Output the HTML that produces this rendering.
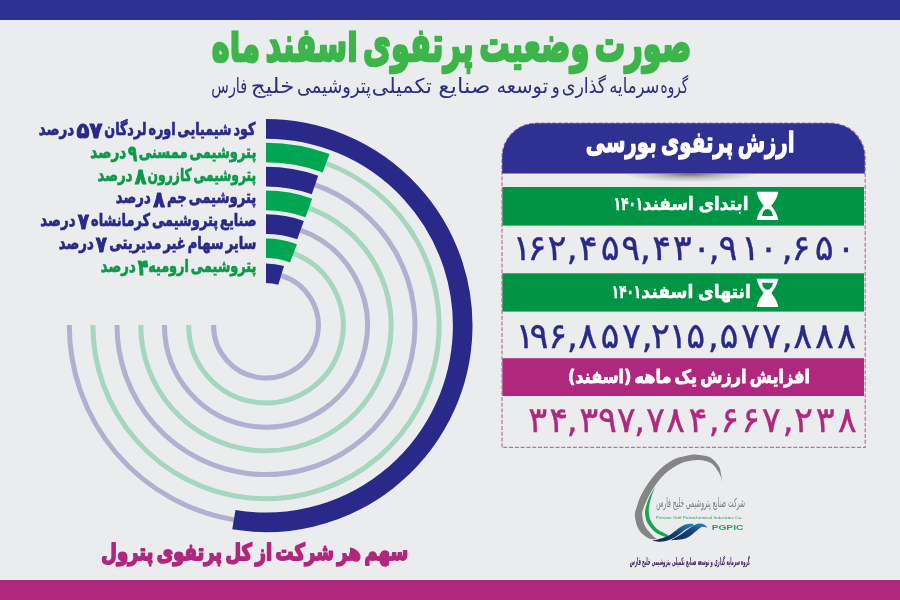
<!DOCTYPE html>
<html lang="fa"><head><meta charset="utf-8"><title>صورت وضعیت پرتفوی</title>
<style>
html,body{margin:0;padding:0}
body{width:900px;height:600px;position:relative;overflow:hidden;background:#ebecee;font-family:"DejaVu Sans","Liberation Sans",sans-serif}
.abs{position:absolute;left:0;top:0}
.txt text{direction:rtl;unicode-bidi:normal;white-space:pre}
</style></head><body>
<div class="abs" style="width:900px;height:20px;background:#2e3192"></div>
<div class="abs" style="top:580px;width:900px;height:20px;background:#b0277e"></div>
<svg class="abs" width="900" height="600" viewBox="0 0 900 600">
<path d="M235.57 519.93A196.7 196.7 0 0 1 69.30 325.00" stroke="#29298a" stroke-opacity="0.3" stroke-width="5" fill="none"/>
<path d="M324.64 162.73A173.1 173.1 0 1 1 92.90 325.00" stroke="#00a651" stroke-opacity="0.3" stroke-width="5" fill="none"/>
<path d="M313.77 184.47A149.0 149.0 0 1 1 117.00 325.00" stroke="#29298a" stroke-opacity="0.3" stroke-width="5" fill="none"/>
<path d="M307.79 207.58A125.2 125.2 0 1 1 140.80 325.00" stroke="#00a651" stroke-opacity="0.3" stroke-width="5" fill="none"/>
<path d="M299.71 229.86A101.5 101.5 0 1 1 164.50 325.00" stroke="#29298a" stroke-opacity="0.3" stroke-width="5" fill="none"/>
<path d="M292.82 253.10A77.3 77.3 0 1 1 188.70 325.00" stroke="#00a651" stroke-opacity="0.3" stroke-width="5" fill="none"/>
<path d="M280.71 275.31A52.4 52.4 0 1 1 213.60 325.00" stroke="#29298a" stroke-opacity="0.3" stroke-width="5" fill="none"/>
<path d="M266.00 128.90A196.7 196.7 0 1 1 233.87 519.66" stroke="#29298a" stroke-width="19.6" fill="none"/>
<path d="M266.00 152.50A173.1 173.1 0 0 1 326.05 163.25" stroke="#00a651" stroke-width="19.6" fill="none"/>
<path d="M266.00 176.60A149.0 149.0 0 0 1 315.00 184.89" stroke="#29298a" stroke-width="19.6" fill="none"/>
<path d="M266.00 200.40A125.2 125.2 0 0 1 308.82 207.95" stroke="#00a651" stroke-width="19.6" fill="none"/>
<path d="M266.00 224.10A101.5 101.5 0 0 1 300.55 230.16" stroke="#29298a" stroke-width="19.6" fill="none"/>
<path d="M266.00 248.30A77.3 77.3 0 0 1 293.45 253.34" stroke="#00a651" stroke-width="19.6" fill="none"/>
<path d="M266.00 273.20A52.4 52.4 0 0 1 281.15 275.44" stroke="#29298a" stroke-width="19.6" fill="none"/>
</svg>
<svg class="abs" width="900" height="600" viewBox="0 0 900 600">
<defs>
<radialGradient id="shd" cx="0.5" cy="0" r="1" gradientTransform="translate(0.5 0) scale(0.5 1) translate(-0.5 0)">
<stop offset="0" stop-color="#3a3a3a" stop-opacity="0.75"/><stop offset="0.45" stop-color="#555" stop-opacity="0.35"/><stop offset="1" stop-color="#777" stop-opacity="0"/>
</radialGradient>
<path id="hg" d="M0 0H21.6C20.6 6 18 9.6 14.6 14.1C18 18.6 20.6 22.3 21.6 28.3H0C1 22.3 3.6 18.6 7 14.1C3.6 9.6 1 6 0 0ZM5.4 24.3H16.2C16 20.2 13.6 17.3 10.8 17.3C8 17.3 5.6 20.2 5.4 24.3Z" fill-rule="evenodd"/>
</defs>
<rect x="622" y="173.5" width="136" height="9" fill="url(#shd)"/>
<rect x="502.3" y="187" width="361.7" height="38.6" fill="#009444"/>
<rect x="502.3" y="273.3" width="361.7" height="38.3" fill="#009444"/>
<rect x="502.3" y="358.2" width="361.7" height="37.8" fill="#b0277e"/>
<path d="M502 447.3V157.4A34.2 34.2 0 0 1 536.2 123.2H831A34.2 34.2 0 0 1 865.2 157.4V447.3Z" fill="none" stroke="#b275a5" stroke-width="1.2" stroke-dasharray="4 1.8"/>
<path d="M502.2 173.6V157.4A34.2 34.2 0 0 1 536.4 123.2H830.6A34.2 34.2 0 0 1 864.8 157.4V173.6Z" fill="#2e3192"/>
<use href="#hg" x="756.7" y="191.7" fill="#fff"/>
<use href="#hg" transform="translate(756.7 307) scale(1 -1)" fill="#fff"/>
</svg>

<svg class="abs" width="900" height="600" viewBox="0 0 900 600">
<defs><linearGradient id="wv" x1="0" y1="1" x2="1" y2="0"><stop offset="0" stop-color="#13254f"/><stop offset="0.55" stop-color="#17437c"/><stop offset="1" stop-color="#2a86c0"/></linearGradient></defs>
<path d="M722.5 482.7C722.2 481.2 721.6 476.8 721.0 474.0C720.4 471.2 720.5 468.8 718.7 466.0C716.9 463.2 713.3 459.2 710.0 457.3C706.7 455.4 702.2 455.3 699.0 454.9C695.8 454.5 694.9 454.1 690.5 455.0C686.1 455.9 678.4 456.9 672.6 460.0C666.8 463.1 660.9 468.0 655.9 473.4C650.9 478.8 645.8 486.6 642.5 492.4C639.2 498.2 637.6 503.9 636.4 508.0C635.1 512.1 634.6 513.3 635.0 517.0C635.4 520.7 636.7 526.4 639.0 530.0C641.3 533.6 646.0 537.0 649.0 538.5C652.0 540.0 655.7 538.8 657.0 538.8C656.3 538.3 655.0 538.1 653.0 536.0C651.0 533.9 646.8 529.5 645.0 526.0C643.2 522.5 642.4 518.0 642.2 515.0C642.0 512.0 642.1 511.9 643.6 508.0C645.1 504.1 647.9 497.0 651.4 491.3C654.9 485.6 659.9 478.6 664.8 474.0C669.6 469.4 675.5 465.7 680.5 463.4C685.5 461.1 690.9 460.6 695.0 460.2C699.1 459.8 702.5 460.4 705.3 461.0C708.1 461.6 709.8 462.2 711.7 463.6C713.6 465.0 715.2 467.2 716.7 469.3C718.2 471.4 719.5 473.8 720.5 476.0C721.5 478.2 722.2 481.6 722.5 482.7Z" fill="#858587"/>
<path d="M655.3 486.8C654.2 488.7 650.7 494.1 649.0 498.0C647.3 501.9 645.8 506.8 645.2 510.0C644.6 513.2 645.2 514.8 645.6 517.0C646.0 519.2 645.9 520.5 647.5 523.0C649.1 525.5 652.2 529.8 655.0 532.0C657.8 534.2 661.7 535.6 664.0 536.5C666.3 537.4 668.2 537.2 669.0 537.3C668.7 536.8 669.0 535.9 667.0 534.5C665.0 533.1 659.8 531.4 657.0 529.0C654.2 526.6 651.9 523.2 650.5 520.0C649.1 516.8 648.7 513.7 648.8 510.0C648.9 506.3 649.9 501.9 651.0 498.0C652.1 494.1 654.6 488.7 655.3 486.8Z" fill="#17a650"/>
<path d="M652.5 540.7C654.2 540.9 659.2 542.2 663.0 541.6C666.8 541.0 671.2 539.2 675.0 537.2C678.8 535.2 682.8 531.3 686.0 529.3C689.2 527.3 692.7 525.9 694.0 525.2C693.7 525.0 693.3 523.9 692.0 523.8C690.7 523.6 688.3 523.5 686.0 524.3C683.7 525.1 681.0 526.8 678.0 528.8C675.0 530.8 672.2 534.0 668.0 536.0C663.8 538.0 655.1 539.9 652.5 540.7Z" fill="url(#wv)"/>
<path d="M671.0 540.2C673.5 539.9 681.8 539.7 686.0 538.2C690.2 536.7 693.3 533.1 696.0 531.2C698.7 529.3 700.1 527.4 702.0 526.8C703.9 526.2 706.6 527.5 707.5 527.6C706.9 527.1 705.6 525.1 704.0 524.5C702.4 523.9 700.3 523.2 698.0 523.8C695.7 524.3 693.0 525.9 690.0 527.8C687.0 529.7 683.2 532.9 680.0 535.0C676.8 537.1 672.5 539.3 671.0 540.2Z" fill="url(#wv)"/>
<text x="655.8" y="519.4" font-family="'Liberation Sans',sans-serif" font-size="4.1" fill="#21a356" textLength="86.5" lengthAdjust="spacingAndGlyphs">Persian Gulf Petrochemical Industries Co.</text>
<text x="711.7" y="529.6" font-family="'Liberation Sans',sans-serif" font-weight="bold" font-size="7.4" fill="#21a356" textLength="31.6" lengthAdjust="spacingAndGlyphs">PGPIC</text>
</svg>

<svg class="abs txt" width="900" height="600" viewBox="0 0 900 600" direction="rtl" font-family="DejaVu Sans, Liberation Sans, sans-serif">
<defs><clipPath id="c_title"><rect x="0" y="30.5" width="900" height="100"/></clipPath></defs>
<g clip-path="url(#c_title)"><text id="title" x="0" y="0" transform="translate(691.29 61.1) scale(1 1.22)" font-size="40" font-weight="bold" fill="#3cb54a" textLength="479.51" lengthAdjust="spacingAndGlyphs" stroke="#3cb54a" stroke-width="2.2" stroke-linejoin="round" style="word-spacing:-0.17em">صورت وضعیت پرتفوی اسفند ماه</text></g>
<text id="sub0" x="688.12" y="93" font-size="20.5" font-weight="normal" fill="#2b2e83" textLength="27.53" lengthAdjust="spacingAndGlyphs">گروه</text>
<text id="sub1" x="659.39" y="93" font-size="20.5" font-weight="normal" fill="#2b2e83" textLength="50.15" lengthAdjust="spacingAndGlyphs">سرمایه</text>
<text id="sub2" x="606.08" y="93" font-size="20.5" font-weight="normal" fill="#2b2e83" textLength="44.32" lengthAdjust="spacingAndGlyphs">گذاری</text>
<text id="sub3" x="559.60" y="93" font-size="20.5" font-weight="normal" fill="#2b2e83" textLength="7.94" lengthAdjust="spacingAndGlyphs">و</text>
<text id="sub4" x="548.11" y="93" font-size="20.5" font-weight="normal" fill="#2b2e83" textLength="51.68" lengthAdjust="spacingAndGlyphs">توسعه</text>
<text id="sub5" x="490.40" y="93" font-size="20.5" font-weight="normal" fill="#2b2e83" textLength="52.03" lengthAdjust="spacingAndGlyphs">صنایع</text>
<text id="sub6" x="431.73" y="93" font-size="20.5" font-weight="normal" fill="#2b2e83" textLength="59.98" lengthAdjust="spacingAndGlyphs">تکمیلی</text>
<text id="sub7" x="371.04" y="93" font-size="20.5" font-weight="normal" fill="#2b2e83" textLength="74.11" lengthAdjust="spacingAndGlyphs">پتروشیمی</text>
<text id="sub8" x="294.43" y="93" font-size="20.5" font-weight="normal" fill="#2b2e83" textLength="43.55" lengthAdjust="spacingAndGlyphs">خلیج</text>
<text id="sub9" x="247.10" y="93" font-size="20.5" font-weight="normal" fill="#2b2e83" textLength="35.76" lengthAdjust="spacingAndGlyphs">فارس</text>
<text id="cap" x="408.06" y="559.5" font-size="23" font-weight="bold" fill="#b0277e" textLength="306.72" lengthAdjust="spacingAndGlyphs" stroke="#b0277e" stroke-width="1.8" stroke-linejoin="round" style="word-spacing:-0.15em">سهم هر شرکت از کل پرتفوی پترول</text>
<text id="ph" x="0" y="0" transform="translate(794.53 151.5) scale(1 1.14)" font-size="24.5" font-weight="bold" fill="#fff" textLength="208.67" lengthAdjust="spacingAndGlyphs" stroke="#fff" stroke-width="1.1" stroke-linejoin="round" style="word-spacing:-0.12em">ارزش پرتفوی بورسی</text>
<text id="g1" x="748.46" y="210" font-size="18" font-weight="bold" fill="#fff" textLength="105.72" lengthAdjust="spacingAndGlyphs" stroke="#fff" stroke-width="0.5" stroke-linejoin="round" style="word-spacing:-0.08em">ابتدای اسفند</text>
<text id="g1y" x="643.12" y="210" font-size="18" font-weight="bold" fill="#fff" textLength="29.25" lengthAdjust="spacingAndGlyphs" stroke="#fff" stroke-width="0.5" stroke-linejoin="round">۱۴۰۱</text>
<text id="g2" x="750.87" y="298" font-size="18" font-weight="bold" fill="#fff" textLength="109.65" lengthAdjust="spacingAndGlyphs" stroke="#fff" stroke-width="0.5" stroke-linejoin="round" style="word-spacing:-0.08em">انتهای اسفند</text>
<text id="g2y" x="641.12" y="298" font-size="18" font-weight="bold" fill="#fff" textLength="29.25" lengthAdjust="spacingAndGlyphs" stroke="#fff" stroke-width="0.5" stroke-linejoin="round">۱۴۰۱</text>
<text id="m1" x="810.01" y="382.8" font-size="18" font-weight="bold" fill="#fff" textLength="242.06" lengthAdjust="spacingAndGlyphs" stroke="#fff" stroke-width="0.8" stroke-linejoin="round" style="word-spacing:-0.15em">افزایش ارزش یک ماهه (اسفند)</text>
<text id="lg1" x="745.00" y="507" font-size="12.5" font-weight="normal" fill="#7a7a7c" textLength="88.86" lengthAdjust="spacingAndGlyphs">شرکت صنایع پتروشیمی خلیج فارس</text>
<text id="lg2" x="750.01" y="565" font-size="10.5" font-weight="bold" fill="#3b1b5c" textLength="120.23" lengthAdjust="spacingAndGlyphs">گروه سرمایه گذاری و توسعه صنایع تکمیلی پتروشیمی خلیج فارس</text>
<text id="l1n" x="255.36" y="134.9" font-size="17.5" font-weight="bold" fill="#29298a" textLength="151.07" lengthAdjust="spacingAndGlyphs" stroke="#29298a" stroke-width="0.7" stroke-linejoin="round" style="word-spacing:-0.2em">کود شیمیایی اوره لردگان</text>
<text id="l1d" x="102.39" y="138.0" font-size="21.9" font-weight="bold" fill="#29298a" textLength="25.77" lengthAdjust="spacingAndGlyphs" stroke="#29298a" stroke-width="1.1" stroke-linejoin="round">۵۷</text>
<text id="l1p" x="74.20" y="134.9" font-size="17.5" font-weight="bold" fill="#29298a" textLength="35.45" lengthAdjust="spacingAndGlyphs" stroke="#29298a" stroke-width="0.7" stroke-linejoin="round">درصد</text>
<text id="l2n" x="256.35" y="157.75" font-size="17.5" font-weight="bold" fill="#0c9a4a" textLength="117.59" lengthAdjust="spacingAndGlyphs" stroke="#0c9a4a" stroke-width="0.7" stroke-linejoin="round" style="word-spacing:-0.2em">پتروشیمی ممسنی</text>
<text id="l2d" x="137.26" y="160.85" font-size="21.9" font-weight="bold" fill="#0c9a4a" textLength="9.16" lengthAdjust="spacingAndGlyphs" stroke="#0c9a4a" stroke-width="1.1" stroke-linejoin="round">۹</text>
<text id="l2p" x="126.31" y="157.75" font-size="17.5" font-weight="bold" fill="#0c9a4a" textLength="35.98" lengthAdjust="spacingAndGlyphs" stroke="#0c9a4a" stroke-width="0.7" stroke-linejoin="round">درصد</text>
<text id="l3n" x="256.25" y="180.6" font-size="17.5" font-weight="bold" fill="#0c9a4a" textLength="108.63" lengthAdjust="spacingAndGlyphs" stroke="#0c9a4a" stroke-width="0.7" stroke-linejoin="round" style="word-spacing:-0.2em">پتروشیمی کازرون</text>
<text id="l3d" x="146.54" y="183.7" font-size="21.9" font-weight="bold" fill="#0c9a4a" textLength="11.67" lengthAdjust="spacingAndGlyphs" stroke="#0c9a4a" stroke-width="1.1" stroke-linejoin="round">۸</text>
<text id="l3p" x="132.48" y="180.6" font-size="17.5" font-weight="bold" fill="#0c9a4a" textLength="34.93" lengthAdjust="spacingAndGlyphs" stroke="#0c9a4a" stroke-width="0.7" stroke-linejoin="round">درصد</text>
<text id="l4n" x="256.33" y="203.45" font-size="17.5" font-weight="bold" fill="#29298a" textLength="89.41" lengthAdjust="spacingAndGlyphs" stroke="#29298a" stroke-width="0.7" stroke-linejoin="round" style="word-spacing:-0.2em">پتروشیمی جم</text>
<text id="l4d" x="164.84" y="206.55" font-size="21.9" font-weight="bold" fill="#29298a" textLength="11.67" lengthAdjust="spacingAndGlyphs" stroke="#29298a" stroke-width="1.1" stroke-linejoin="round">۸</text>
<text id="l4p" x="150.78" y="203.45" font-size="17.5" font-weight="bold" fill="#29298a" textLength="34.93" lengthAdjust="spacingAndGlyphs" stroke="#29298a" stroke-width="0.7" stroke-linejoin="round">درصد</text>
<text id="l5n" x="256.43" y="226.3" font-size="17.5" font-weight="bold" fill="#29298a" textLength="165.43" lengthAdjust="spacingAndGlyphs" stroke="#29298a" stroke-width="0.7" stroke-linejoin="round" style="word-spacing:-0.2em">صنایع پتروشیمی کرمانشاه</text>
<text id="l5d" x="89.03" y="229.4" font-size="21.9" font-weight="bold" fill="#29298a" textLength="11.35" lengthAdjust="spacingAndGlyphs" stroke="#29298a" stroke-width="1.1" stroke-linejoin="round">۷</text>
<text id="l5p" x="75.49" y="226.3" font-size="17.5" font-weight="bold" fill="#29298a" textLength="35.14" lengthAdjust="spacingAndGlyphs" stroke="#29298a" stroke-width="0.7" stroke-linejoin="round">درصد</text>
<text id="l6n" x="256.48" y="249.15" font-size="17.5" font-weight="bold" fill="#29298a" textLength="147.21" lengthAdjust="spacingAndGlyphs" stroke="#29298a" stroke-width="0.7" stroke-linejoin="round" style="word-spacing:-0.2em">سایر سهام غیر مدیریتی</text>
<text id="l6d" x="106.82" y="252.25" font-size="21.9" font-weight="bold" fill="#29298a" textLength="11.14" lengthAdjust="spacingAndGlyphs" stroke="#29298a" stroke-width="1.1" stroke-linejoin="round">۷</text>
<text id="l6p" x="93.79" y="249.15" font-size="17.5" font-weight="bold" fill="#29298a" textLength="35.03" lengthAdjust="spacingAndGlyphs" stroke="#29298a" stroke-width="0.7" stroke-linejoin="round">درصد</text>
<text id="l7n" x="256.29" y="272.0" font-size="17.5" font-weight="bold" fill="#0c9a4a" textLength="108.14" lengthAdjust="spacingAndGlyphs" stroke="#0c9a4a" stroke-width="0.7" stroke-linejoin="round" style="word-spacing:-0.2em">پتروشیمی ارومیه</text>
<text id="l7d" x="148.14" y="275.1" font-size="21.9" font-weight="bold" fill="#0c9a4a" textLength="10.43" lengthAdjust="spacingAndGlyphs" stroke="#0c9a4a" stroke-width="1.1" stroke-linejoin="round">۴</text>
<text id="l7p" x="135.78" y="272.0" font-size="17.5" font-weight="bold" fill="#0c9a4a" textLength="34.93" lengthAdjust="spacingAndGlyphs" stroke="#0c9a4a" stroke-width="0.7" stroke-linejoin="round">درصد</text>
<text id="n1" y="259.6" direction="ltr" text-anchor="middle" font-size="35.3" font-weight="normal" fill="#29298a" stroke="#29298a" stroke-width="0.35"><tspan x="521.9">۱</tspan><tspan x="537.0">۶</tspan><tspan x="557.1">۲</tspan><tspan x="572.1">,</tspan><tspan x="588.2">۴</tspan><tspan x="610.3">۵</tspan><tspan x="630.7">۹</tspan><tspan x="645.4">,</tspan><tspan x="661.7">۴</tspan><tspan x="682.3">۳</tspan><tspan x="701.7">۰</tspan><tspan x="714.1">,</tspan><tspan x="727.9">۹</tspan><tspan x="750.4">۱</tspan><tspan x="768.5">۰</tspan><tspan x="787.2">,</tspan><tspan x="801.0">۶</tspan><tspan x="824.3">۵</tspan><tspan x="846.1">۰</tspan></text>
<text id="n2" y="347.6" direction="ltr" text-anchor="middle" font-size="35.3" font-weight="normal" fill="#29298a" stroke="#29298a" stroke-width="0.35"><tspan x="525.1">۱</tspan><tspan x="538.9">۹</tspan><tspan x="557.8">۶</tspan><tspan x="572.4">,</tspan><tspan x="587.7">۸</tspan><tspan x="610.0">۵</tspan><tspan x="631.5">۷</tspan><tspan x="647.0">,</tspan><tspan x="660.4">۲</tspan><tspan x="678.1">۱</tspan><tspan x="695.7">۵</tspan><tspan x="713.4">,</tspan><tspan x="729.0">۵</tspan><tspan x="750.5">۷</tspan><tspan x="771.5">۷</tspan><tspan x="787.2">,</tspan><tspan x="802.7">۸</tspan><tspan x="824.5">۸</tspan><tspan x="846.5">۸</tspan></text>
<text id="n3" y="431.6" direction="ltr" text-anchor="middle" font-size="35.3" font-weight="normal" fill="#b0277e" stroke="#b0277e" stroke-width="0.35"><tspan x="537.8">۳</tspan><tspan x="558.7">۴</tspan><tspan x="572.1">,</tspan><tspan x="588.8">۳</tspan><tspan x="607.4">۹</tspan><tspan x="626.2">۷</tspan><tspan x="639.7">,</tspan><tspan x="655.5">۷</tspan><tspan x="675.5">۸</tspan><tspan x="698.0">۴</tspan><tspan x="714.1">,</tspan><tspan x="729.8">۶</tspan><tspan x="750.8">۶</tspan><tspan x="771.2">۷</tspan><tspan x="788.1">,</tspan><tspan x="803.6">۲</tspan><tspan x="825.3">۳</tspan><tspan x="847.3">۸</tspan></text>
</svg>
</body></html>
